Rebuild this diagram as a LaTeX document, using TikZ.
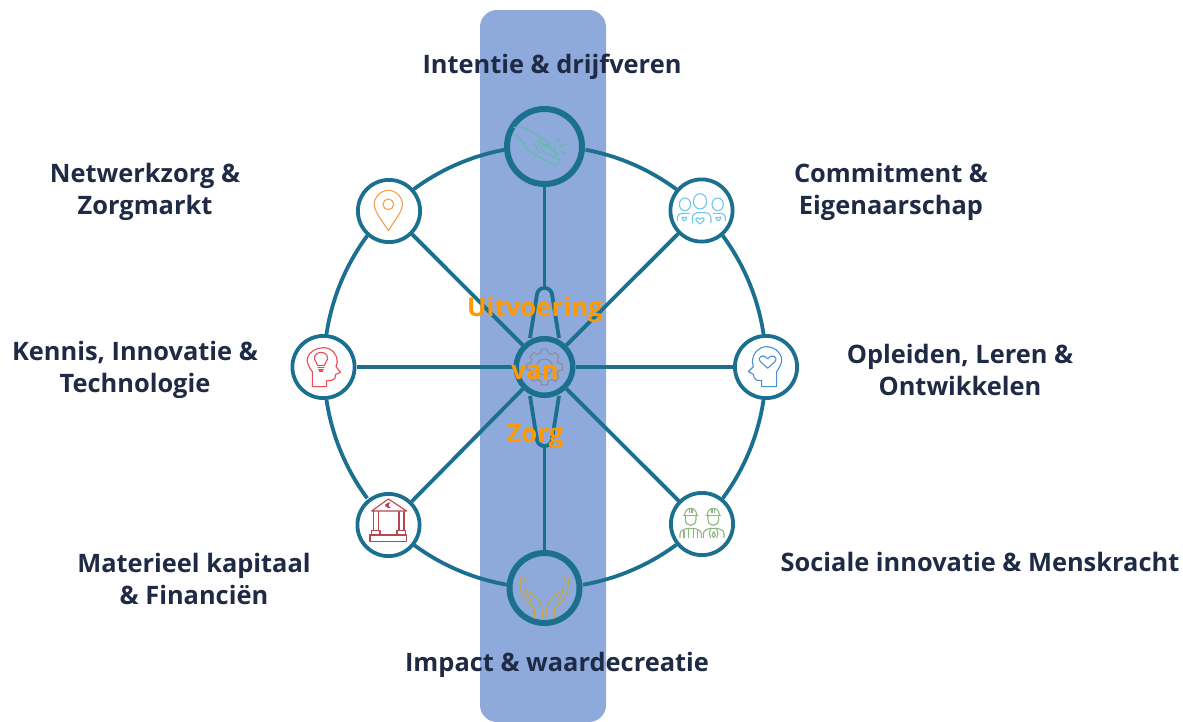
\documentclass[tikz,border=0pt]{standalone}
\usepackage{fontspec}
\setmainfont{Open Sans}
\usetikzlibrary{calc}
\definecolor{band}{HTML}{8EA9DB}
\definecolor{teal}{HTML}{1B6F8F}
\definecolor{ink}{HTML}{1F2A44}
\definecolor{orng}{HTML}{FF9900}
\tikzset{
  ring/.style={circle,draw=teal,inner sep=0pt,line width=3.8pt,minimum size=62.2pt,fill=white},
  bigring/.style={circle,draw=teal,inner sep=0pt,line width=6pt,minimum size=#1},
  wire/.style={draw=teal,line width=3.8pt},
  arcwire/.style={draw=teal,line width=3.8pt},
  lbl/.style={text=ink,font=\bfseries\fontsize{25.4}{32}\selectfont,align=center,inner sep=0pt},
  olbl/.style={text=orng,font=\bfseries\fontsize{25.8}{28}\selectfont,inner sep=0pt},
  icon/.style={line width=1.1pt,line join=round,line cap=round,fill=none}
}
\newcommand\hrt[3]{\draw[icon,#1,shift={#2},scale=#3] (0,8) -- (-10,-1) .. controls (-15,-8) and (-5,-12) .. (0,-5) .. controls (5,-12) and (15,-8) .. (10,-1) -- cycle;}
\begin{document}
\begin{tikzpicture}[x=1pt,y=-1pt]
\useasboundingbox (0,0) rectangle (1183,721);
\fill[band,rounded corners=17pt] (480,10) rectangle (606,722);

% nodes
\coordinate (rim) at (545,367);
\node[bigring=75pt] (top) at (544.5,146.5) {};
\node[bigring=70pt] (bot) at (544.5,588) {};
\node[circle,draw=teal,inner sep=0pt,line width=5.5pt,minimum size=56.5pt] (cen) at (544.5,367) {};

% rim, from one node's border to the next
\foreach \s/\e in {233.56/259.45,280.55/306.44,323.56/351.44,8.56/36.44,53.56/80.1,99.9/126.44,143.56/171.44,188.56/216.44}
  \draw[arcwire] ($(rim)+(\s:221)$) arc[start angle=\s,end angle=\e,radius=221];

\node[ring] (pin) at (389,211) {};
\node[ring] (com) at (701.5,210.5) {};
\node[ring] (ken) at (323.5,367) {};
\node[ring] (opl) at (766,367) {};
\node[ring] (ban) at (388.5,525) {};
\node[ring] (wor) at (702,524) {};
\coordinate (kt) at (544.5,288);
\coordinate (kb) at (544.5,446);

% spokes
\foreach \n in {pin,com,ken,opl,ban,wor} \draw[wire] (cen) -- (\n);
\draw[wire] (top) -- (kt);
\draw[wire] (bot) -- (kb);
\draw[wire,rounded corners=6pt] ($(cen.center)+(-14.5,-29)$) -- ($(kt)+(-6.5,0)$) -- ($(kt)+(6.5,0)$) -- ($(cen.center)+(14.5,-29)$);
\draw[wire,rounded corners=6pt] ($(cen.center)+(-14.5,29)$) -- ($(kb)+(-6.5,0)$) -- ($(kb)+(6.5,0)$) -- ($(cen.center)+(14.5,29)$);

% hand, top
\begin{scope}[shift={(440,90)},scale=1/3]
\definecolor{handc}{HTML}{62BCA6}
\draw[icon,handc] (222,112) .. controls (240,108) and (260,115) .. (272,122) -- (303,143) -- (325,155) -- (328,165) -- (316,166) -- (300,150);
\draw[icon,handc] (222,133) .. controls (245,140) and (250,165) .. (265,182) -- (340,224) .. controls (352,226) and (360,218) .. (358,208) -- (345,202) -- (310,185) -- (300,170);
\draw[icon,handc] (283,158) -- (298,190);
\draw[icon,handc] (300,150) -- (298,160) -- (345,185) -- (352,190) -- (345,202);
\draw[icon,handc] (320,168) -- (345,172) -- (345,185);
\draw[icon,handc] (352,156) -- (358,145);
\draw[icon,handc] (360,169) -- (380,161);
\draw[icon,handc] (362,185) -- (377,190);
\end{scope}

% gear
\begin{scope}[shift={(544.5,367)}]
\definecolor{gearc}{HTML}{8C8C94}
\draw[line width=1pt,gearc,line join=round]
  (-15:14.5) -- (-9:18) -- (9:18) -- (15:14.5)
  -- (30:14.5) -- (36:18) -- (54:18) -- (60:14.5)
  -- (75:14.5) -- (81:18) -- (99:18) -- (105:14.5)
  -- (120:14.5) -- (126:18) -- (144:18) -- (150:14.5)
  -- (165:14.5) -- (171:18) -- (189:18) -- (195:14.5)
  -- (210:14.5) -- (216:18) -- (234:18) -- (240:14.5)
  -- (255:14.5) -- (261:18) -- (279:18) -- (285:14.5)
  -- (300:14.5) -- (306:18) -- (324:18) -- (330:14.5) -- cycle;
\draw[line width=1pt,gearc] (0,0) circle[radius=8];
\end{scope}

% pin
\begin{scope}[shift={(340,170)},scale=1/3]
\definecolor{pinc}{HTML}{F4A14A}
\draw[icon,pinc] (145,182) .. controls (125,150) and (103,125) .. (103,103) arc[start angle=180,end angle=360,radius=42] .. controls (187,125) and (165,150) .. (145,182) -- cycle;
\draw[icon,pinc] (145,103) circle[radius=16];
\end{scope}

% people
\begin{scope}[shift={(650,170)},scale=1/3]
\definecolor{pplc}{HTML}{6FC7EE}
\draw[icon,pplc] (150,94) ellipse[x radius=20,y radius=23];
\draw[icon,pplc] (105,103) ellipse[x radius=17,y radius=19];
\draw[icon,pplc] (203,103) ellipse[x radius=17,y radius=19];
\draw[icon,pplc] (127,158) -- (127,145) .. controls (127,134) and (135,128) .. (142,128) -- (165,128) .. controls (175,128) and (183,134) .. (183,145) -- (183,158);
\draw[icon,pplc] (82,152) -- (82,142) .. controls (82,134) and (90,130) .. (97,130) -- (118,130);
\draw[icon,pplc] (190,130) -- (212,130) .. controls (220,130) and (226,134) .. (226,142) -- (226,152);
\hrt{pplc}{(150,153)}{1.1}
\hrt{pplc}{(103,147)}{.7}
\hrt{pplc}{(205,147)}{.7}
\end{scope}

% head, red
\begin{scope}[shift={(280,325)},scale=1/3]
\definecolor{redc}{HTML}{EE4A55}
\draw[icon,redc] (97,185) -- (97,140) .. controls (85,125) and (80,110) .. (82,100) .. controls (86,80) and (110,68) .. (130,68) .. controls (155,68) and (172,88) .. (172,110) -- (168,125) -- (182,142) -- (167,148) -- (165,160) .. controls (160,166) and (150,168) .. (140,167) -- (140,185) -- cycle;
\draw[icon,redc] (113,121) .. controls (113,112) and (103,112) .. (103,101) .. controls (103,76) and (143,76) .. (143,101) .. controls (143,112) and (133,112) .. (133,121) -- cycle;
\draw[icon,redc] (114,127) -- (132,127) (116,133) -- (130,133) (118,138) -- (128,138);
\end{scope}

% head, blue
\begin{scope}[shift={(725,325)},scale=1/3]
\definecolor{bluc}{HTML}{4C90D2}
\draw[icon,bluc] (155,185) -- (155,140) .. controls (165,125) and (172,110) .. (170,100) .. controls (165,78) and (145,65) .. (125,65) .. controls (100,65) and (84,85) .. (82,110) -- (85,125) -- (70,140) -- (85,148) -- (88,160) .. controls (92,166) and (100,168) .. (110,167) -- (110,185) -- cycle;
\hrt{bluc}{(128,112)}{2.2}
\end{scope}

% bank
\begin{scope}[shift={(345,480)},scale=1/3]
\definecolor{bnkc}{HTML}{B5474F}
\draw[icon,bnkc] (80,93) -- (130,57) -- (185,93) -- cycle;
\draw[icon,bnkc] (85,95) -- (85,152) (100,95) -- (100,152) (162,95) -- (162,152) (177,95) -- (177,152);
\draw[icon,bnkc] (80,152) rectangle (105,165) (156,152) rectangle (182,165) (75,165) rectangle (185,185);
\draw[icon,bnkc] (135,69) .. controls (122,66) and (122,85) .. (135,83);
\draw[icon,bnkc] (122,74) -- (131,74) (122,78) -- (131,78);
\end{scope}

% workers
\begin{scope}[shift={(660,480)},scale=1/3]
\definecolor{wrkc}{HTML}{8DB681}
\foreach \dx in {0,68} {
\begin{scope}[shift={(\dx,0)}]
\draw[icon,wrkc] (70,106) -- (114,106);
\draw[icon,wrkc] (74,106) .. controls (74,78) and (110,78) .. (110,106);
\draw[icon,wrkc] (76,108) -- (76,118) .. controls (76,142) and (108,142) .. (108,118) -- (108,108);
\draw[icon,wrkc] (88,87) -- (88,98) (96,87) -- (96,98);
\end{scope}}
\draw[icon,wrkc] (60,173) -- (60,162) .. controls (60,150) and (75,147) .. (85,145) -- (100,145) .. controls (110,147) and (124,150) .. (124,162) -- (124,173);
\draw[icon,wrkc] (72,152) -- (72,173) (85,147) -- (85,173) (100,147) -- (100,173) (112,152) -- (112,173);
\draw[icon,wrkc] (130,173) -- (130,162) .. controls (130,150) and (143,147) .. (152,145) -- (170,145) .. controls (180,147) and (192,150) .. (192,162) -- (192,173);
\draw[icon,wrkc] (152,147) -- (148,160) -- (152,173) (170,147) -- (174,160) -- (170,173) (161,155) -- (156,165) -- (161,173) -- (166,165) -- cycle;
\end{scope}

% hands
\begin{scope}[shift={(490,540)},scale=1/3]
\definecolor{hndc}{HTML}{C9A43F}
\def\handp{(133,235) -- (133,205) -- (105,178) .. controls (95,165) and (90,140) .. (90,122) .. controls (90,108) and (105,108) .. (106,124) -- (106,150) -- (124,185) (106,150) .. controls (125,158) and (145,172) .. (153,195) .. controls (158,210) and (156,225) .. (160,238)}
\draw[icon,hndc] \handp;
\begin{scope}[shift={(326,0)},xscale=-1]
\draw[icon,hndc] \handp;
\end{scope}
\end{scope}

% labels
\node[lbl] (l1) at (552,67) {Intentie \& drijfveren};
\node[lbl] (l2) at (145,191.5) {Netwerkzorg \&\\Zorgmarkt};
\node[lbl] (l3) at (891,191.5) {Commitment \&\\Eigenaarschap};
\node[lbl] (l4) at (135,370) {Kennis, Innovatie \&\\Technologie};
\node[lbl] (l5) at (960,370) {Opleiden, Leren \&\\Ontwikkelen};
\node[lbl] (l6) at (194,579) {Materieel kapitaal\\\& Financiën};
\node[lbl] (l7) at (980,562) {Sociale innovatie \& Menskracht};
\node[lbl] (l8) at (557,665) {Impact \& waardecreatie};
\node[olbl] (o1) at (535,310) {Uitvoering};
\node[olbl] (o2) at (535,372) {van};
\node[olbl] (o3) at (535,436) {Zorg};
\end{tikzpicture}
\end{document}
